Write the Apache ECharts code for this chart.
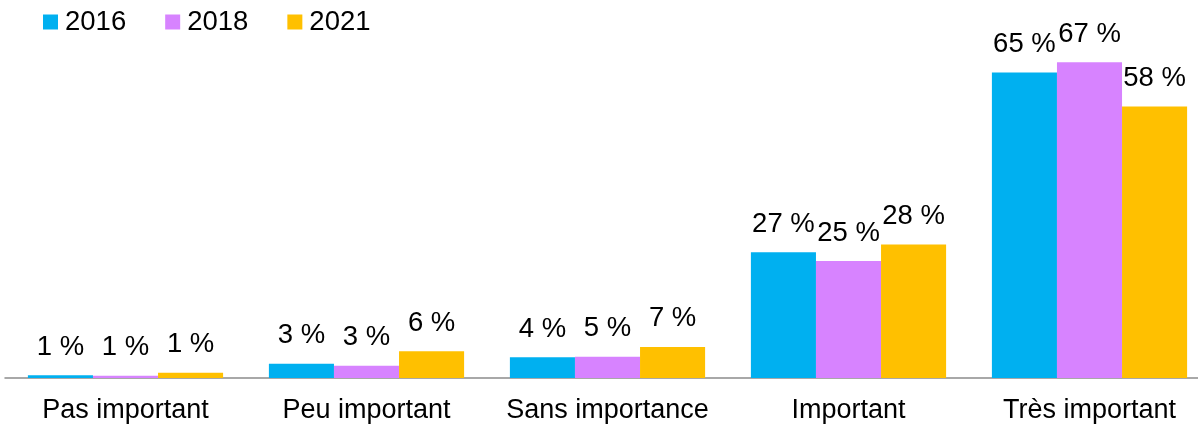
<!DOCTYPE html>
<html>
<head>
<meta charset="utf-8">
<style>
  html, body { margin: 0; padding: 0; background: #fff; }
  #chart { width: 1198px; height: 425px; }
</style>
<script src="https://cdn.jsdelivr.net/npm/echarts@6/dist/echarts.min.js"></script>
</head>
<body>
<div id="chart"></div>
<script>
var categories = ['Pas important', 'Peu important', 'Sans importance', 'Important', 'Très important'];
var years = ['2016', '2018', '2021'];
var values2016 = [0.6, 3.0, 4.4, 26.7, 64.8];
var values2018 = [0.5, 2.6, 4.5, 24.8, 67.0];
var values2021 = [1.1, 5.7, 6.6, 28.3, 57.6];
var colors = ['#00B0F0', '#D783FF', '#FFC000'];

var font = '"Liberation Sans", Arial, sans-serif';
var seriesData = [values2016, values2018, values2021];

var chart = echarts.init(document.getElementById('chart'), null, { renderer: 'canvas' });
chart.setOption({
  animation: false,
  color: colors,
  legend: {
    left: 38,
    top: 3,
    icon: 'rect',
    itemWidth: 15,
    itemHeight: 15,
    itemGap: 39,
    textStyle: { fontFamily: font, fontSize: 27.5, color: '#000', padding: [0, 0, 0, 2] },
    data: years
  },
  grid: { left: 5, width: 1205, top: 48, bottom: 47, outerBoundsMode: 'none' },
  xAxis: {
    type: 'category',
    data: categories,
    axisTick: { show: false },
    axisLine: { lineStyle: { color: '#8c8c8c', width: 1.5 } },
    axisLabel: { fontFamily: font, fontSize: 27, color: '#000', margin: 19, interval: 0 }
  },
  yAxis: {
    type: 'value',
    min: 0,
    max: 70,
    show: false
  },
  series: seriesData.map(function (vals, i) {
    return {
      name: years[i],
      type: 'bar',
      data: vals,
      barGap: '0%',
      barCategoryGap: '19%',
      label: {
        show: true,
        position: 'top',
        distance: 14,
        fontFamily: font,
        fontSize: 27.5,
        color: '#000',
        formatter: function (p) { return Math.round(p.value) + ' %'; }
      }
    };
  })
});
</script>
</body>
</html>
